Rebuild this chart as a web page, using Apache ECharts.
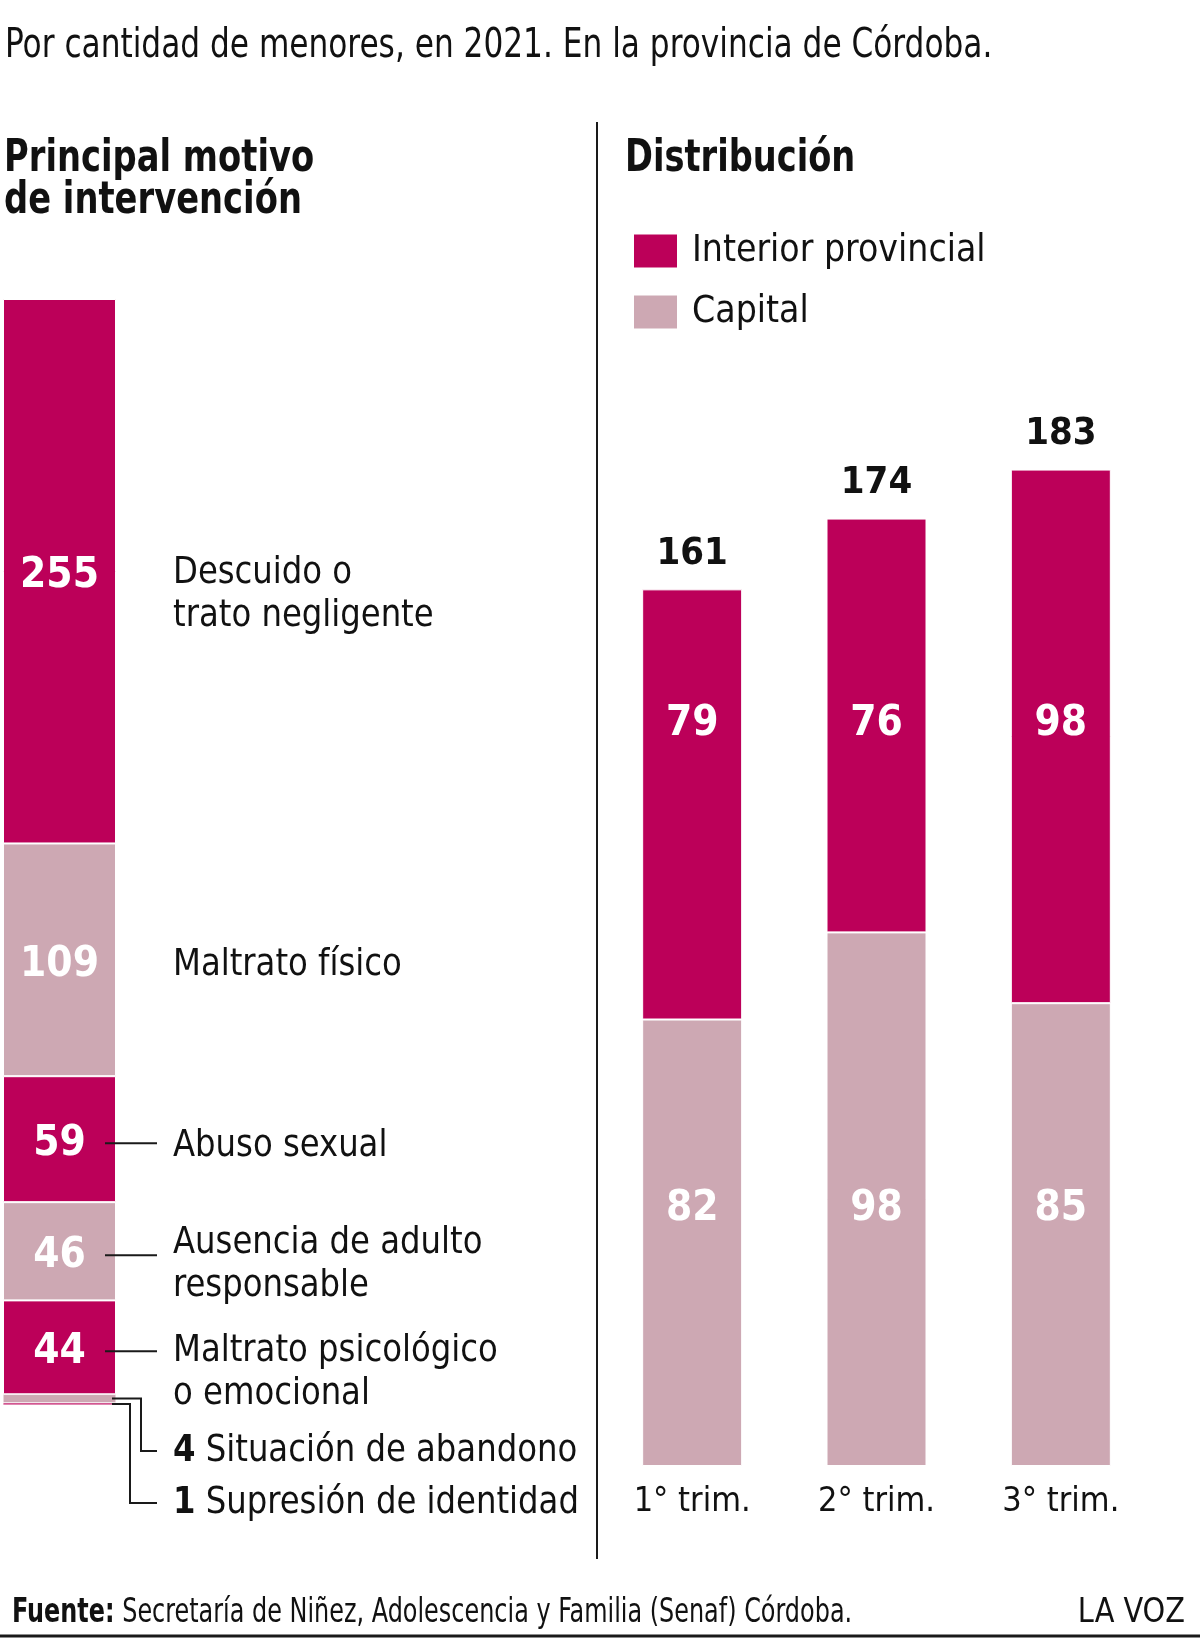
<!DOCTYPE html>
<html>
<head>
<meta charset="utf-8">
<script src="https://cdn.jsdelivr.net/npm/echarts@6/dist/echarts.min.js"></script>
<style>
html, body { margin: 0; padding: 0; background: #fff; }
#container { width: 1200px; height: 1638px; }
</style>
</head>
<body>
<div id="container"></div>
<script>
// datos
var motivos = ['Descuido o\ntrato negligente', 'Maltrato físico', 'Abuso sexual',
    'Ausencia de adulto\nresponsable', 'Maltrato psicológico\no emocional',
    'Situación de abandono', 'Supresión de identidad'];
var motivosValores = [255, 109, 59, 46, 44, 4, 1];
var trimestres = ['1° trim.', '2° trim.', '3° trim.'];
var interior = [79, 76, 98];
var capital = [82, 98, 85];

var MAGENTA = '#BC0059';
var PINK = '#CDA8B3';
var INK = '#111';
var FONT = "'Liberation Sans Narrow', 'Arial Narrow', 'DejaVu Sans Condensed', sans-serif";

let chart = echarts.init(document.getElementById('container'));

var leftGrid = { left: 3, top: 299, width: 113, height: 1106 };
var rightGrid = { left: 600, top: 377, width: 553, height: 1089 };
var rightMax = 200;
var total = motivosValores.reduce((a, b) => a + b, 0);
var totales = interior.map((v, i) => v + capital[i]);

function rightY(v) {
    return rightGrid.top + rightGrid.height * (1 - v / rightMax);
}

let series = [];
// stack from bottom: last motive first
for (let i = motivos.length - 1; i >= 0; i--) {
    series.push({
        type: 'bar',
        name: motivos[i],
        xAxisIndex: 0,
        yAxisIndex: 0,
        stack: 'motivos',
        barWidth: '100%',
        animation: false,
        itemStyle: {
            color: i % 2 == 0 ? MAGENTA : PINK,
            borderColor: '#fff',
            borderWidth: motivosValores[i] < 5 ? 0.5 : 1,
        },
        label: {
            show: motivosValores[i] >= 10,
            position: 'inside',
            offset: [0, 5],
            color: '#fff',
            fontWeight: 'bold',
            fontSize: 42,
            fontFamily: FONT,
        },
        data: [motivosValores[i]],
    });
}

var trimLabel = {
    show: true,
    position: 'inside',
    color: '#fff',
    fontWeight: 'bold',
    fontSize: 42,
    fontFamily: FONT,
};

function fixedLabel(v) {
    return function (params) {
        return {
            x: params.rect.x + params.rect.width / 2,
            y: rightY(v),
            align: 'center',
            verticalAlign: 'middle',
        };
    };
}

series.push({
    type: 'bar',
    name: 'Capital',
    xAxisIndex: 1,
    yAxisIndex: 1,
    stack: 'trim',
    barWidth: 100,
    animation: false,
    itemStyle: { color: PINK, borderColor: '#fff', borderWidth: 1 },
    label: trimLabel,
    labelLayout: fixedLabel(47.2),
    data: capital,
});
series.push({
    type: 'bar',
    name: 'Interior provincial',
    xAxisIndex: 1,
    yAxisIndex: 1,
    stack: 'trim',
    barWidth: 100,
    animation: false,
    itemStyle: { color: MAGENTA, borderColor: '#fff', borderWidth: 1 },
    label: trimLabel,
    labelLayout: fixedLabel(136.2),
    data: interior,
});
series.push({
    type: 'scatter',
    name: 'total',
    xAxisIndex: 1,
    yAxisIndex: 1,
    symbol: 'rect',
    symbolSize: 1,
    animation: false,
    itemStyle: { color: 'rgba(0,0,0,0)', opacity: 1 },
    label: {
        show: true,
        position: 'top',
        distance: 16,
        color: INK,
        fontWeight: 'bold',
        fontSize: 38,
        fontFamily: FONT,
    },
    data: totales,
});

let option = {
    backgroundColor: '#fff',
    textStyle: { fontFamily: FONT },
    legend: {
        data: ['Interior provincial', 'Capital'],
        orient: 'vertical',
        left: 632,
        top: 231,
        padding: 0,
        icon: 'rect',
        itemWidth: 45,
        itemHeight: 35,
        itemGap: 21,
        selectedMode: false,
        textStyle: { fontSize: 37, lineHeight: 40, color: INK, fontFamily: FONT, padding: [0, 0, 0, 9] },
    },
    grid: [
        Object.assign({ containLabel: false }, leftGrid),
        Object.assign({ containLabel: false }, rightGrid),
    ],
    xAxis: [
        { type: 'category', gridIndex: 0, data: ['motivos'], show: false },
        {
            type: 'category',
            gridIndex: 1,
            data: trimestres,
            axisLine: { show: false },
            axisTick: { show: false },
            axisLabel: { fontSize: 34, color: INK, fontFamily: FONT, margin: 19 },
        },
    ],
    yAxis: [
        { type: 'value', gridIndex: 0, min: 0, max: total, show: false },
        { type: 'value', gridIndex: 1, min: 0, max: rightMax, show: false },
    ],
    series: series,
};

chart.setOption(option);

// textos, guias y leyendas dibujadas aparte
let graphics = [];
function text(x, y, str, opts, sx) {
    let style = Object.assign({
        text: str,
        fill: INK,
        fontSize: 38,
        fontFamily: FONT,
        align: 'left',
        textAlign: 'left',
        verticalAlign: 'middle',
        textVerticalAlign: 'middle',
    }, opts || {});
    graphics.push({ type: 'text', x: x, y: y, scaleX: sx || 1, z: 100, silent: true, style: style });
}
function poly(points, w) {
    graphics.push({ type: 'polyline', z: 100, silent: true, shape: { points: points }, style: { stroke: '#1a1a1a', lineWidth: w || 2, fill: null } });
}

text(5, 47, 'Por cantidad de menores, en 2021. En la provincia de Córdoba.', { fontSize: 40 }, 0.867);
text(4, 139, 'Principal motivo\nde intervención', { fontSize: 44, fontWeight: 'bold', lineHeight: 42, verticalAlign: 'top', textVerticalAlign: 'top' }, 0.853);
text(625, 160, 'Distribución', { fontSize: 44, fontWeight: 'bold' }, 0.85);
poly([[597, 122], [597, 1559]], 2);

let barRight = leftGrid.left + leftGrid.width;
let acc = total;
let centers = [];
motivosValores.forEach((v, i) => {
    let mid = acc - v / 2;
    acc -= v;
    centers.push(chart.convertToPixel({ gridIndex: 0 }, [0, mid])[1]);
});

let nameX = 173;
let nameScale = 0.945;
let shifts = [-2, 2, 3, -12, 0];
for (let i = 0; i < 5; i++) {
    let c = centers[i];
    text(nameX, c - 18 + shifts[i], motivos[i], { lineHeight: 43, verticalAlign: 'top', textVerticalAlign: 'top' }, nameScale);
    if (i >= 2) {
        poly([[105, c + 4], [157, c + 4]]);
    }
}
// los dos segmentos finos
let rowY = [1451, 1503];
let elbowX = [141, 130];
[5, 6].forEach((i, k) => {
    let c = centers[i];
    poly([[barRight - 4, c], [elbowX[k], c], [elbowX[k], rowY[k]], [157, rowY[k]]]);
    text(nameX, rowY[k], '{b|' + motivosValores[i] + '} ' + motivos[i], {
        rich: { b: { fontWeight: 'bold', fontSize: 38, fontFamily: FONT, fill: INK } },
    }, nameScale);
});

text(12, 1613, '{b|Fuente:} Secretaría de Niñez, Adolescencia y Familia (Senaf) Córdoba.', {
    fontSize: 33,
    rich: { b: { fontWeight: 'bold', fontSize: 33, fontFamily: FONT, fill: INK } },
}, 0.806);
text(1185, 1613, 'LA VOZ', { fontSize: 33, align: 'right', textAlign: 'right' }, 0.97);
poly([[0, 1636], [1200, 1636]], 3);

chart.setOption({ graphic: graphics });
</script>
</body>
</html>
